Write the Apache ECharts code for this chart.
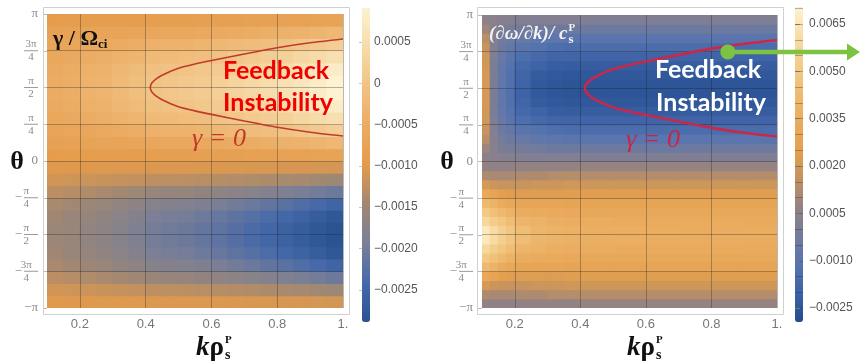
<!DOCTYPE html>
<html><head><meta charset="utf-8">
<script src="https://cdn.jsdelivr.net/npm/echarts@6/dist/echarts.min.js"></script>
<style>html,body{margin:0;padding:0;background:#fff}#c{width:860px;height:361px}</style>
</head><body><div id="c"></div>
<script>
// ---------- data ----------
const kLeft = [0.125,0.175,0.225,0.275,0.325,0.375,0.425,0.475,0.525,0.575,0.625,0.675,0.725,0.775,0.825,0.875,0.925,0.975];
const thetaLeftDeg = [-172.5,-157.5,-142.5,-127.5,-112.5,-97.5,-82.5,-67.5,-52.5,-37.5,-22.5,-7.5,7.5,22.5,37.5,52.5,67.5,82.5,97.5,112.5,127.5,142.5,157.5,172.5];
const gammaUnit = 1e-4;
const gammaRows = [
 [-10.2,-10.3,-10.3,-10.4,-10.4,-10.4,-10.5,-10.5,-10.5,-10.6,-10.6,-10.6,-10.7,-10.7,-10.8,-10.8,-10.9,-11.0],
 [-11.2,-11.4,-11.6,-11.8,-12.0,-12.2,-12.5,-12.6,-12.7,-12.9,-13.0,-13.2,-13.5,-13.7,-14.0,-14.2,-14.5,-14.8],
 [-12.7,-13.1,-13.5,-13.9,-14.3,-14.8,-15.5,-15.7,-15.9,-16.3,-16.7,-17.1,-17.6,-18.1,-18.7,-19.3,-20.0,-20.6],
 [-13.9,-14.4,-14.9,-15.5,-16.2,-16.9,-17.8,-18.1,-18.4,-18.9,-19.4,-20.1,-20.8,-21.5,-22.3,-23.2,-24.1,-25.1],
 [-14.6,-15.2,-15.8,-16.5,-17.3,-18.1,-19.2,-19.6,-19.9,-20.5,-21.1,-21.9,-22.7,-23.6,-24.5,-25.5,-26.7,-27.8],
 [-15.0,-15.5,-16.2,-17.0,-17.8,-18.7,-19.9,-20.3,-20.7,-21.3,-22.0,-22.8,-23.7,-24.7,-25.6,-26.7,-27.9,-29.1],
 [-15.0,-15.5,-16.2,-17.0,-17.8,-18.7,-19.9,-20.3,-20.7,-21.3,-22.0,-22.8,-23.7,-24.7,-25.6,-26.7,-27.9,-29.0],
 [-14.6,-15.2,-15.8,-16.5,-17.3,-18.1,-19.2,-19.6,-19.9,-20.5,-21.1,-21.9,-22.7,-23.6,-24.5,-25.5,-26.7,-27.8],
 [-13.9,-14.4,-14.9,-15.5,-16.2,-16.9,-17.8,-18.1,-18.4,-18.9,-19.4,-20.1,-20.8,-21.5,-22.3,-23.2,-24.1,-25.1],
 [-12.7,-13.1,-13.5,-13.9,-14.3,-14.8,-15.5,-15.7,-15.9,-16.3,-16.7,-17.1,-17.6,-18.1,-18.7,-19.3,-20.0,-20.6],
 [-11.2,-11.4,-11.6,-11.8,-12.0,-12.2,-12.5,-12.6,-12.7,-12.9,-13.0,-13.2,-13.5,-13.7,-14.0,-14.2,-14.5,-14.8],
 [-10.2,-10.3,-10.3,-10.4,-10.4,-10.4,-10.5,-10.5,-10.5,-10.6,-10.6,-10.6,-10.7,-10.7,-10.8,-10.8,-10.9,-11.0],
 [-9.4,-9.3,-9.2,-9.1,-9.0,-8.9,-8.7,-8.6,-8.6,-8.5,-8.4,-8.3,-8.2,-8.1,-7.9,-7.8,-7.6,-7.5],
 [-8.1,-7.9,-7.6,-7.3,-7.0,-6.7,-6.2,-6.0,-5.9,-5.7,-5.4,-5.1,-4.8,-4.4,-4.0,-3.6,-3.1,-2.7],
 [-7.0,-6.6,-6.2,-5.7,-5.2,-4.6,-3.9,-3.7,-3.4,-3.0,-2.6,-2.1,-1.6,-1.0,-0.4,0.3,1.0,1.8],
 [-6.1,-5.6,-5.0,-4.4,-3.8,-3.0,-2.1,-1.8,-1.5,-1.0,-0.4,0.2,0.9,1.7,2.5,3.4,4.3,5.2],
 [-5.4,-4.8,-4.2,-3.5,-2.7,-1.9,-0.8,-0.4,-0.1,0.5,1.1,1.9,2.7,3.6,4.5,5.5,6.7,7.8],
 [-5.1,-4.5,-3.8,-3.0,-2.2,-1.3,-0.1,0.3,0.7,1.3,2.0,2.8,3.7,4.7,5.6,6.7,7.9,9.1],
 [-5.1,-4.5,-3.8,-3.0,-2.2,-1.3,-0.1,0.3,0.7,1.3,2.0,2.8,3.7,4.7,5.6,6.7,7.9,9.1],
 [-5.4,-4.8,-4.2,-3.5,-2.7,-1.9,-0.8,-0.4,-0.1,0.5,1.1,1.9,2.7,3.6,4.5,5.5,6.7,7.8],
 [-6.1,-5.6,-5.0,-4.4,-3.8,-3.0,-2.1,-1.8,-1.5,-1.0,-0.4,0.2,0.9,1.7,2.5,3.4,4.3,5.2],
 [-7.0,-6.6,-6.2,-5.7,-5.2,-4.6,-3.9,-3.7,-3.4,-3.0,-2.6,-2.1,-1.6,-1.0,-0.4,0.3,1.0,1.8],
 [-8.1,-7.9,-7.6,-7.3,-7.0,-6.7,-6.2,-6.0,-5.9,-5.7,-5.4,-5.1,-4.8,-4.4,-4.0,-3.6,-3.1,-2.7],
 [-9.4,-9.3,-9.2,-9.1,-9.0,-8.9,-8.7,-8.6,-8.6,-8.5,-8.4,-8.3,-8.2,-8.1,-7.9,-7.8,-7.6,-7.5]
];

const kEdgesRight = [0.1,0.125,0.15,0.175,0.2,0.25,0.3,0.35,0.4,0.5,0.6,0.7,0.8,0.9,1.0];
const thetaRightDeg = [-174.375,-163.125,-151.875,-140.625,-129.375,-118.125,-106.875,-95.625,-84.375,-73.125,-61.875,-50.625,-39.375,-28.125,-16.875,-5.625,5.625,16.875,28.125,39.375,50.625,61.875,73.125,84.375,95.625,106.875,118.125,129.375,140.625,151.875,163.125,174.375];
const vgUnit = 1e-4;
const vgRows = [
 [7,6,6,6,7,7,7,7,7.5,7.5,7.5,7.5,7.5,7.5],
 [12,11,11,11,12,12,13,13,13.3,13.3,13.3,13.3,13.3,13.3],
 [21,18,17,17,17,18,18,19,18.9,18.9,18.9,18.9,18.9,18.9],
 [32,28,25,24,23,23,23,24,23.8,23.8,23.8,23.8,23.8,23.8],
 [42,38,34,31,29,29,29,28.5,28.1,28.1,28.1,28.1,28.1,28.1],
 [50,46,42,38,35,34,33,32,31.6,31.5,31.4,31.4,31.4,31.4],
 [58,53,49,44,40,38,36.5,35.5,34.5,34.2,33.8,33.7,33.7,33.6],
 [66,60,54,49,44,40,38.5,37.5,36.5,35.8,35.1,35.0,34.8,34.6],
 [66,60,54,49,44,40,38.5,37.5,36.5,35.8,35.1,35.0,34.8,34.6],
 [58,53,49,44,40,38,36.5,35.5,34.5,34.2,33.8,33.7,33.7,33.6],
 [50,46,42,38,35,34,33,32,31.6,31.5,31.4,31.4,31.4,31.4],
 [42,38,34,31,29,29,29,28.5,28.1,28.1,28.1,28.1,28.1,28.1],
 [32,28,25,24,23,23,23,24,23.8,23.8,23.8,23.8,23.8,23.8],
 [21,18,17,17,17,18,18,19,18.9,18.9,18.9,18.9,18.9,18.9],
 [12,11,11,11,12,12,13,13,13.3,13.3,13.3,13.3,13.3,13.3],
 [7,6,6,6,7,7,7,7,7.5,7.5,7.5,7.5,7.5,7.5],
 [5,4,3,3,2,2,2,2,1.5,1.5,1.5,1.5,1.5,1.5],
 [9,4,0,-1,-2,-3,-4,-4,-4.3,-4.3,-4.3,-4.3,-4.3,-4.3],
 [14,3,-2,-4,-6,-8,-9,-10,-9.9,-9.9,-9.9,-9.9,-9.9,-9.9],
 [17,2,-4,-7,-10,-12,-14,-15,-14.8,-14.8,-14.8,-14.8,-14.8,-14.8],
 [19,1,-6,-10,-14,-17,-19,-19,-19.1,-19.1,-19.1,-19.1,-19.1,-19.1],
 [20,0,-7,-12,-17,-20,-22,-22.5,-22.4,-22.4,-22.4,-22.4,-22.4,-22.4],
 [21,0,-8,-13,-19,-23,-24,-25,-24.7,-24.7,-24.7,-24.7,-24.7,-24.7],
 [21,0,-8,-13,-20,-24,-25.5,-26,-25.8,-25.8,-25.8,-25.8,-25.8,-25.8],
 [21,0,-8,-13,-20,-24,-25.5,-26,-25.8,-25.8,-25.8,-25.8,-25.8,-25.8],
 [21,0,-8,-13,-19,-23,-24,-25,-24.7,-24.7,-24.7,-24.7,-24.7,-24.7],
 [20,0,-7,-12,-17,-20,-22,-22.5,-22.4,-22.4,-22.4,-22.4,-22.4,-22.4],
 [19,1,-6,-10,-14,-17,-19,-19,-19.1,-19.1,-19.1,-19.1,-19.1,-19.1],
 [17,2,-4,-7,-10,-12,-14,-15,-14.8,-14.8,-14.8,-14.8,-14.8,-14.8],
 [14,3,-2,-4,-6,-8,-9,-10,-9.9,-9.9,-9.9,-9.9,-9.9,-9.9],
 [9,4,0,-1,-2,-3,-4,-4,-4.3,-4.3,-4.3,-4.3,-4.3,-4.3],
 [5,4,3,3,2,2,2,2,1.5,1.5,1.5,1.5,1.5,1.5]
];

const gammaZeroK =     [1.0,0.9,0.8,0.7,0.6,0.55,0.5,0.45,0.43,0.42,0.416,0.414,0.416,0.42,0.43,0.45,0.5,0.55,0.6,0.7,0.8,0.9,1.0];
const gammaZeroTheta = [2.607,2.526,2.421,2.286,2.146,2.071,1.981,1.831,1.744,1.677,1.631,1.571,1.511,1.465,1.398,1.311,1.161,1.071,0.996,0.856,0.721,0.616,0.535];
const dotPoint = [0.85, 2.35];

const kTicks = [0.2,0.4,0.6,0.8,1.0];
const thetaTickLabels = ['−π','−3π/4','−π/2','−π/4','0','π/4','π/2','3π/4','π'];
const thetaGridMultiples = [-3,-2,-1,0,1,2,3];
const leftBarTicks = [-0.0025,-0.002,-0.0015,-0.001,-0.0005,0,0.0005];
const rightBarTicks = [-0.0025,-0.001,0.0005,0.002,0.0035,0.005,0.0065];
const rightBandLevels = [-0.0025,-0.002,-0.0015,-0.001,-0.0005,0,0.0005,0.001,0.0015,0.002,0.0025,0.003,0.0035,0.004,0.0045,0.005,0.0055,0.006,0.0065,0.007];
const leftRange = [-0.00289, 0.00091];
const rightRange = [-0.00294, 0.00704];
const leftColors = ['#2a5391','#4669aa','#7a7f96','#9e8774','#e49b4b','#ebab62','#f1c283','#f7dba9','#fdf2d2'];
const rightColors = ['#224d8d','#3d62a6','#5674b0','#737c9c','#928284','#c4925f','#e4a04f','#eaab5e','#efbb72','#f3cc8a','#f8dea6','#fdf3cf'];

// ---------- build ----------
const rad = d => d * Math.PI / 180;
const leftData = [];
gammaRows.forEach((row, r) => row.forEach((v, c) => leftData.push([kLeft[c], rad(thetaLeftDeg[r]), v * gammaUnit])));
const rightData = [];
vgRows.forEach((row, r) => row.forEach((v, c) => rightData.push([kEdgesRight[c], kEdgesRight[c+1], rad(thetaRightDeg[r]), v * vgUnit])));
const dkL = kLeft[1] - kLeft[0];
const dtL = rad(thetaLeftDeg[1] - thetaLeftDeg[0]);
const dtR = rad(thetaRightDeg[1] - thetaRightDeg[0]);
const curve = gammaZeroK.map((k, i) => [k, gammaZeroTheta[i]]);

function renderLeft(params, api) {
  const k = api.value(0), t = api.value(1);
  const p0 = api.coord([k - dkL/2, t + dtL/2]);
  const p1 = api.coord([k + dkL/2, t - dtL/2]);
  return {type:'rect', shape:{x:p0[0]-0.5, y:p0[1]-0.5, width:p1[0]-p0[0]+1, height:p1[1]-p0[1]+1}, style:{fill: api.visual('color')}};
}
function renderRight(params, api) {
  const k0 = api.value(0), k1 = api.value(1), t = api.value(2);
  const p0 = api.coord([k0, t + dtR/2]);
  const p1 = api.coord([k1, t - dtR/2]);
  return {type:'rect', shape:{x:p0[0]-0.5, y:p0[1]-0.5, width:p1[0]-p0[0]+1, height:p1[1]-p0[1]+1}, style:{fill: api.visual('color')}};
}
function thetaLabel(v) {
  const s = thetaTickLabels[Math.round(v / (Math.PI/4)) + 4];
  if (s.indexOf('/') < 0) return '{w|' + s + '}';
  const neg = s[0] === '−';
  const body = neg ? s.slice(1) : s;
  const parts = body.split('/');
  return '{n|' + parts[0] + '}\n' + (neg ? '{sg|−}' : '') + '{bar| }\n{d|' + parts[1] + '}';
}
const lblColor = '#8a8a8a';
const thetaRich = {
  w: {fontSize: 13, color: lblColor, fontFamily: 'Liberation Serif'},
  n: {fontSize: 11, color: lblColor, width: 14, align: 'center', lineHeight: 10, fontFamily: 'Liberation Serif'},
  d: {fontSize: 11, color: lblColor, width: 14, align: 'center', lineHeight: 10, fontFamily: 'Liberation Serif'},
  bar: {width: 14, height: 1, backgroundColor: '#9a9a9a', lineHeight: 3, fontSize: 1},
  sg: {fontSize: 13, color: lblColor, lineHeight: 3, padding: [0, 2, 0, 0], fontFamily: 'Liberation Serif'}
};
function kFmt(v) { return Math.abs(v - 1) < 1e-9 ? '1.' : v.toFixed(1); }
function barFmt(v) { if (Math.abs(v) < 1e-12) return '0'; return (v < 0 ? '−' : '') + Math.abs(v).toFixed(4); }

function dataXAxis(gi) {
  return {gridIndex: gi, type: 'value', min: 0.1, max: 1.0,
    axisLine: {show: false}, splitLine: {show: false},
    axisTick: {show: false},
    axisLabel: {customValues: kTicks, formatter: kFmt, margin: 10, fontSize: 13, color: '#777', fontFamily: 'Liberation Sans'}};
}
function dataYAxis(gi) {
  return {gridIndex: gi, type: 'value', min: -Math.PI, max: Math.PI, interval: Math.PI/4,
    axisLine: {show: false}, splitLine: {show: false},
    axisTick: {show: true, length: 4, lineStyle: {color: '#bbb'}},
    axisLabel: {formatter: thetaLabel, rich: thetaRich, margin: 9, color: lblColor}};
}
function gridMarks() {
  return {silent: true, symbol: 'none', animation: false, label: {show: false},
    lineStyle: {color: 'rgba(30,30,30,0.32)', width: 1, type: 'solid'},
    data: kTicks.map(k => ({xAxis: k})).concat(thetaGridMultiples.map(m => ({yAxis: m * Math.PI / 4})))};
}

const chart = echarts.init(document.getElementById('c'), null, {renderer: 'canvas'});
const option = {
  animation: false,
  backgroundColor: '#ffffff',
  grid: [
    {left: 47, top: 14, width: 296, height: 294},
    {left: 482, top: 15, width: 295, height: 293},
    {left: 362, top: 8, width: 8, height: 314},
    {left: 795, top: 7, width: 8, height: 315}
  ],
  xAxis: [dataXAxis(0), dataXAxis(1),
    {gridIndex: 2, type: 'value', show: false}, {gridIndex: 3, type: 'value', show: false}],
  yAxis: [dataYAxis(0), dataYAxis(1),
    {gridIndex: 2, type: 'value', min: leftRange[0], max: leftRange[1], position: 'right', z: 10,
     axisLine: {show: false}, splitLine: {show: false},
     axisTick: {show: true, customValues: leftBarTicks, inside: true, length: 3, lineStyle: {color: 'rgba(120,90,60,0.35)'}},
     axisLabel: {customValues: leftBarTicks, formatter: barFmt, margin: 4, fontSize: 12, color: '#555', fontFamily: 'Liberation Sans'}},
    {gridIndex: 3, type: 'value', min: rightRange[0], max: rightRange[1], position: 'right', z: 10,
     axisLine: {show: false}, splitLine: {show: false},
     axisTick: {show: true, customValues: rightBarTicks, length: 5, lineStyle: {color: '#999'}},
     axisLabel: {customValues: rightBarTicks, formatter: barFmt, margin: 6, fontSize: 12, color: '#555', fontFamily: 'Liberation Sans'}},
    {gridIndex: 3, type: 'value', min: rightRange[0], max: rightRange[1], position: 'right', z: 11,
     axisLine: {show: false}, splitLine: {show: false}, axisLabel: {show: false},
     axisTick: {show: true, customValues: rightBandLevels, inside: true, length: 8, lineStyle: {color: 'rgba(60,50,40,0.35)'}}}
  ],
  visualMap: [
    {type: 'continuous', seriesIndex: 0, dimension: 2, min: leftRange[0], max: leftRange[1],
     inRange: {color: leftColors}, calculable: false, hoverLink: false, padding: 0,
     left: 362, top: 8, itemWidth: 8, itemHeight: 314, orient: 'vertical'},
    {type: 'continuous', seriesIndex: 1, dimension: 3, min: rightRange[0], max: rightRange[1],
     inRange: {color: rightColors}, calculable: false, hoverLink: false, padding: 0,
     left: 795, top: 7, itemWidth: 8, itemHeight: 315, orient: 'vertical'}
  ],
  series: [
    {type: 'custom', xAxisIndex: 0, yAxisIndex: 0, data: leftData, renderItem: renderLeft, encode: {x: 0, y: 1}, clip: true, z: 2, silent: true},
    {type: 'custom', xAxisIndex: 1, yAxisIndex: 1, data: rightData, renderItem: renderRight, encode: {x: [0, 1], y: 2}, clip: true, z: 2, silent: true},
    {type: 'line', xAxisIndex: 0, yAxisIndex: 0, data: curve, showSymbol: false, smooth: 0.2, z: 6,
     lineStyle: {color: '#c23a2a', width: 1.6}, itemStyle: {color: '#c23a2a'}, markLine: gridMarks(), silent: true},
    {type: 'line', xAxisIndex: 1, yAxisIndex: 1, data: curve, showSymbol: false, smooth: 0.2, z: 6,
     lineStyle: {color: '#c8284a', width: 2.6}, itemStyle: {color: '#c8284a'}, markLine: gridMarks(), silent: true},
    {type: 'scatter', xAxisIndex: 1, yAxisIndex: 1, data: [dotPoint], symbolSize: 15, z: 30,
     itemStyle: {color: '#7dc241', opacity: 1}, silent: true}
  ]
};
chart.setOption(option);

const dp = chart.convertToPixel({xAxisIndex: 1, yAxisIndex: 1}, dotPoint);
const W = chart.getWidth();
const serif = '"Liberation Serif", "DejaVu Serif", serif';
const mctx = document.createElement('canvas').getContext('2d');
function tw(text, font) { mctx.font = font; return mctx.measureText(text).width; }
function txt(x, y, text, font, fill, align) {
  return {type: 'text', x: x, y: y, silent: true, z: 50,
    style: {text: text, font: font, fill: fill, align: align || 'center', verticalAlign: 'middle'}};
}
const titleFontL = 'bold 22px ' + serif;
const titleLW = tw('γ / Ω', titleFontL);
const titleFontR = 'italic bold 19px ' + serif;
const titleRW = tw('(∂ω/∂k)/ c', titleFontR);
const kFont = 'italic bold 27px ' + serif, rhoFont = 'bold 27px ' + serif;
const kW = tw('k', kFont), rhoW = tw('ρ', rhoFont);
function xTitle(x0, col) {
  return [
    txt(x0, 348, 'k', kFont, col, 'left'),
    txt(x0 + kW, 348, 'ρ', rhoFont, col, 'left'),
    txt(x0 + kW + rhoW + 1, 340, 'P', 'bold 11px ' + serif, col, 'left'),
    txt(x0 + kW + rhoW + 1, 355, 's', 'bold 14px ' + serif, col, 'left')
  ];
}
chart.setOption({
  graphic: [
    {type: 'rect', silent: true, z: 1, shape: {x: 43.5, y: 7.5, width: 306, height: 307}, style: {fill: 'none', stroke: '#d0d0d0', lineWidth: 1}},
    {type: 'rect', silent: true, z: 1, shape: {x: 477.5, y: 7.5, width: 306, height: 307}, style: {fill: 'none', stroke: '#d0d0d0', lineWidth: 1}},
    // left panel texts
    txt(53, 39, 'γ / Ω', titleFontL, '#111', 'left'),
    txt(53 + titleLW, 45, 'ci', 'bold 13px ' + serif, '#111', 'left'),
    txt(276, 71, 'Feedback', 'bold 25px Lato', '#f00000'),
    txt(278, 103, 'Instability', 'bold 25px Lato', '#f00000'),
    txt(219, 139, 'γ = 0', 'italic 26px ' + serif, '#c0392b'),
    txt(17, 162, 'θ', 'bold 26px ' + serif, '#111'),
    // right panel texts
    txt(489, 34, '(∂ω/∂k)/ c', titleFontR, '#f2f2f2', 'left'),
    txt(490 + titleRW, 28, 'P', 'bold 11px ' + serif, '#f2f2f2', 'left'),
    txt(490 + titleRW, 40, 's', 'bold 13px ' + serif, '#f2f2f2', 'left'),
    txt(708, 70, 'Feedback', 'bold 25px Lato', '#ffffff'),
    txt(711, 103, 'Instability', 'bold 25px Lato', '#ffffff'),
    txt(653, 140, 'γ = 0', 'italic 26px ' + serif, '#cc2244'),
    txt(447, 162, 'θ', 'bold 26px ' + serif, '#111')
  ].concat(xTitle(196, '#111'), xTitle(627, '#111'), [
    // green arrow from the marked point
    {type: 'line', silent: true, z: 20, shape: {x1: dp[0], y1: dp[1], x2: W - 11, y2: dp[1]}, style: {stroke: '#7dc241', lineWidth: 4.5}},
    {type: 'polygon', silent: true, z: 20, shape: {points: [[W - 13, dp[1] - 8.5], [W, dp[1]], [W - 13, dp[1] + 8.5]]}, style: {fill: '#7dc241'}}
  ])
});
</script>
</body></html>
